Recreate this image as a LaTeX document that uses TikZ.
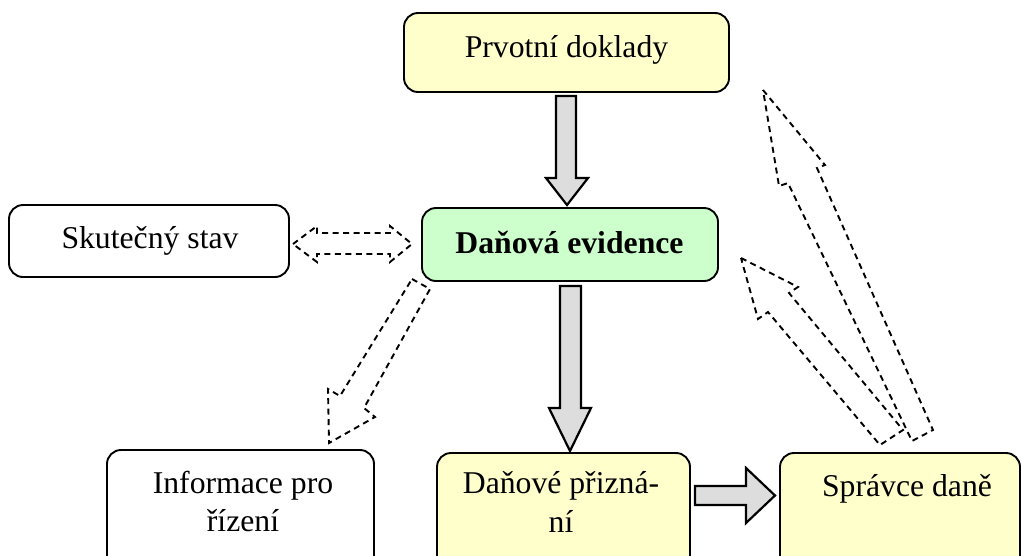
\documentclass[tikz,border=0pt]{standalone}
\usepackage{fontspec}
\setmainfont{Liberation Serif}
\definecolor{yel}{HTML}{FFFFCC}
\definecolor{grn}{HTML}{CCFFCC}
\definecolor{arrgray}{HTML}{DDDDDD}
\begin{document}
\begin{tikzpicture}[x=1pt,y=-1pt,
  box/.style={draw=black, line width=1.9pt, rounded corners=14pt, inner sep=0pt},
  txt/.style={inner sep=0pt, anchor=base, align=center, font=\fontsize{31.7}{38.5}\selectfont},
  blockarrow/.style={draw=black, line width=2.2pt, fill=arrgray, line join=miter},
  dasharrow/.style={draw=black, line width=1.9pt, dash pattern=on 6pt off 4.5pt}]
\useasboundingbox (0,0) rectangle (1021,555);
\clip (0,0) rectangle (1021,555);
% boxes
\node[box, fill=yel, minimum width=325pt, minimum height=79pt] (prv) at (566.5,52.5) {};
\node[box, fill=grn, minimum width=296pt, minimum height=73pt] (evi) at (570,244.5) {};
\node[box, fill=white, minimum width=280pt, minimum height=72pt] (sku) at (149,241) {};
\node[box, fill=white, minimum width=267pt, minimum height=140pt] (inf) at (240.5,520) {};
\node[box, fill=yel, minimum width=253pt, minimum height=137pt] (pri) at (563.5,521.5) {};
\node[box, fill=yel, minimum width=240pt, minimum height=137pt] (spr) at (900,521.5) {};
% texts
\node[txt] (tprv) at (566.5,57) {Prvotní doklady};
\node[txt, font=\fontsize{31.7}{38.5}\selectfont\bfseries] (tevi) at (569.5,253) {Daňová evidence};
\node[txt] (tsku) at (150,248) {Skutečný stav};
\node[txt, anchor=north] (tinf) at (243,470.5) {Informace pro\\řízení};
\node[txt, anchor=north] (tpri) at (561,471.5) {Daňové přizná-\\ní};
\node[txt] (tspr) at (907,496) {Správce daně};
% gray block arrows
\draw[blockarrow] (556,96) -- (576,96) -- (576,178) -- (588,178) -- (567,205) -- (546,178) -- (556,178) -- cycle;
\draw[blockarrow] (560,286) -- (581,286) -- (581,408) -- (591,408) -- (570,451) -- (549,408) -- (560,408) -- cycle;
\draw[blockarrow] (695,486) -- (746,486) -- (746,468) -- (775,495.5) -- (746,523) -- (746,505) -- (695,505) -- cycle;
% dashed arrows
\draw[dasharrow] (293,244) -- (317,226) -- (317,233) -- (390,233) -- (390,226) -- (412,244) -- (390,262) -- (390,254) -- (317,254) -- (317,262) -- cycle;
\draw[dasharrow] (412,279) -- (430,289) -- (364,408) -- (375,417) -- (329,443) -- (328,389) -- (340,396) -- cycle;
\draw[dasharrow] (763,90) -- (825,165) -- (817,168) -- (933,430) -- (912,441) -- (788,183) -- (779,186) -- cycle;
\draw[dasharrow] (741,258) -- (798,287) -- (789,293) -- (903,430) -- (880,445) -- (768,312) -- (758,319) -- cycle;
\end{tikzpicture}
\end{document}
